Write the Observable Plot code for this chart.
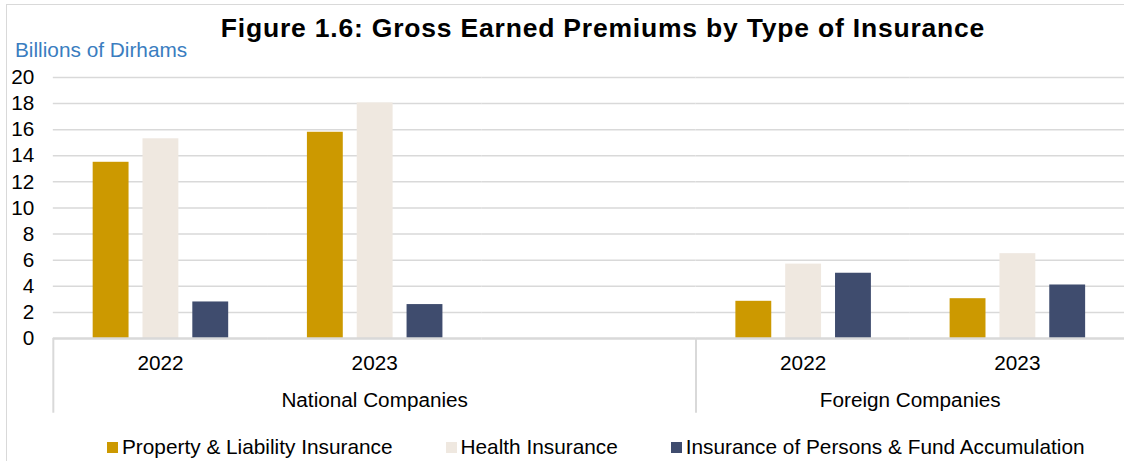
<!DOCTYPE html>
<html>
<head>
<meta charset="utf-8">
<script src="https://cdn.jsdelivr.net/npm/d3@7"></script>
<script src="https://cdn.jsdelivr.net/npm/@observablehq/plot@0.6"></script>
<style>
  html, body { margin: 0; padding: 0; background: #fff; width: 1124px; height: 461px; overflow: hidden; }
  body { position: relative; font-family: Arial, "Liberation Sans", sans-serif; color: #000; }
  #border { position: absolute; left: 6px; top: 4px; width: 1140px; height: 480px; border: 1.5px solid #d9d9d9; box-sizing: border-box; pointer-events: none; }
  #title { position: absolute; left: 0; top: 14.5px; width: 1206px; text-align: center; font-weight: bold; font-size: 26.5px; line-height: 26.5px; letter-spacing: 0.8px; white-space: nowrap; }
  #unit { position: absolute; left: 15px; top: 40px; font-size: 20.8px; line-height: 20px; color: #3a7dc0; white-space: nowrap; }
  #chart { position: absolute; left: 0; top: 60px; }
  #legend { position: absolute; left: 107px; top: 437px; display: flex; gap: 53px; font-size: 20.8px; line-height: 20px; white-space: nowrap; }
  #legend .item { display: inline-flex; align-items: center; }
  #legend .sw { width: 11px; height: 11px; margin-right: 4px; display: inline-block; }
</style>
</head>
<body>
<div id="border"></div>
<div id="title">Figure 1.6: Gross Earned Premiums by Type of Insurance</div>
<div id="unit">Billions of Dirhams</div>
<div id="chart"></div>
<div id="legend"></div>
<script>
// ---- data ----
const groups = ["National Companies", "Foreign Companies"];
const nationalYears = ["2022", "2023", ""];   // the original keeps an empty category after National 2023
const foreignYears = ["2022", "2023"];
const seriesNames = ["Property & Liability Insurance", "Health Insurance", "Insurance of Persons & Fund Accumulation"];
// order: National 2022, National 2023, Foreign 2022, Foreign 2023
const propertyLiability = [13.5, 15.8, 2.85, 3.05];
const healthInsurance = [15.3, 18.05, 5.7, 6.5];
const personsFund = [2.8, 2.6, 5.0, 4.1];
const yTicks = [0, 2, 4, 6, 8, 10, 12, 14, 16, 18, 20];
const seriesColors = ["#cc9900", "#efe8e0", "#3f4c6e"];

// ---- build table ----
const yearsByGroup = [nationalYears, foreignYears];
const slots = groups.flatMap((g, gi) => yearsByGroup[gi].map(y => g + "|" + y));
const dataSlots = slots.filter(s => !s.endsWith("|"));
const seriesValues = [propertyLiability, healthInsurance, personsFund];
const table = dataSlots.flatMap((slot, i) =>
  seriesNames.map((series, si) => ({slot, series, value: seriesValues[si][i]})));

// ---- layout ----
const W = 1128, H = 365, ML = 53, MR = 0, MT = 17, MB = 86;
const slotW = (W - ML - MR) / slots.length;
const grid = "#d9d9d9";
const FS = 20.8;

// group separators (left edge of each group's first slot)
const groupFirstSlots = groups.map((g, gi) => g + "|" + yearsByGroup[gi][0]);
// group labels: centered under each group's slots
const groupLabelMarks = groups.map((g, gi) => {
  const n = yearsByGroup[gi].length;
  const odd = n % 2 === 1;
  const slot = g + "|" + yearsByGroup[gi][odd ? (n - 1) / 2 : n / 2 - 1];
  return Plot.text([{slot, label: g}], {
    fx: "slot", text: "label",
    frameAnchor: odd ? "bottom" : "bottom-right",
    textAnchor: "middle", lineAnchor: "top", dy: 54,
    fontSize: FS, fill: "#000"
  });
});

const chart = Plot.plot({
  width: W, height: H,
  marginTop: MT, marginBottom: MB, marginLeft: ML, marginRight: MR,
  style: {fontFamily: "Arial, 'Liberation Sans', sans-serif", fontSize: FS + "px", color: "#000", background: "transparent", overflow: "visible"},
  fx: {domain: slots, padding: 0, axis: null},
  x: {domain: seriesNames, paddingInner: 0.28, paddingOuter: 0.79, axis: null},
  y: {domain: [0, 20], axis: null},
  color: {domain: seriesNames, range: seriesColors},
  marks: [
    Plot.gridY(yTicks.filter(t => t > 0), {stroke: grid, strokeOpacity: 1, strokeWidth: 1.5}),
    Plot.axisY(yTicks, {tickSize: 0, tickPadding: 19, fontSize: FS, fill: "#000", label: null}),
    Plot.barY(table, {fx: "slot", x: "series", y: "value", fill: "series"}),
    // baseline drawn in every category slot (keeps the empty slot in the layout)
    Plot.ruleY(slots, {fx: d => d, y: 0, stroke: grid, strokeWidth: 2.5}),
    Plot.axisFx({anchor: "bottom", tickSize: 0, tickPadding: 17, label: null,
      tickFormat: d => d.split("|")[1], fontSize: FS, fill: "#000"}),
    Plot.ruleX(groupFirstSlots, {fx: d => d, x: null, dx: -slotW / 2, y1: 0, y2: 0, insetBottom: -75, stroke: grid, strokeWidth: 2}),
    ...groupLabelMarks
  ]
});
document.getElementById("chart").appendChild(chart);

// ---- legend ----
const color = chart.scale("color");
const legend = document.getElementById("legend");
seriesNames.forEach((s, i) => {
  const item = document.createElement("span");
  item.className = "item";
  const sw = document.createElement("span");
  sw.className = "sw";
  sw.style.background = color.range[i];
  const label = document.createElement("span");
  label.textContent = s;
  item.appendChild(sw);
  item.appendChild(label);
  legend.appendChild(item);
});
</script>
</body>
</html>
